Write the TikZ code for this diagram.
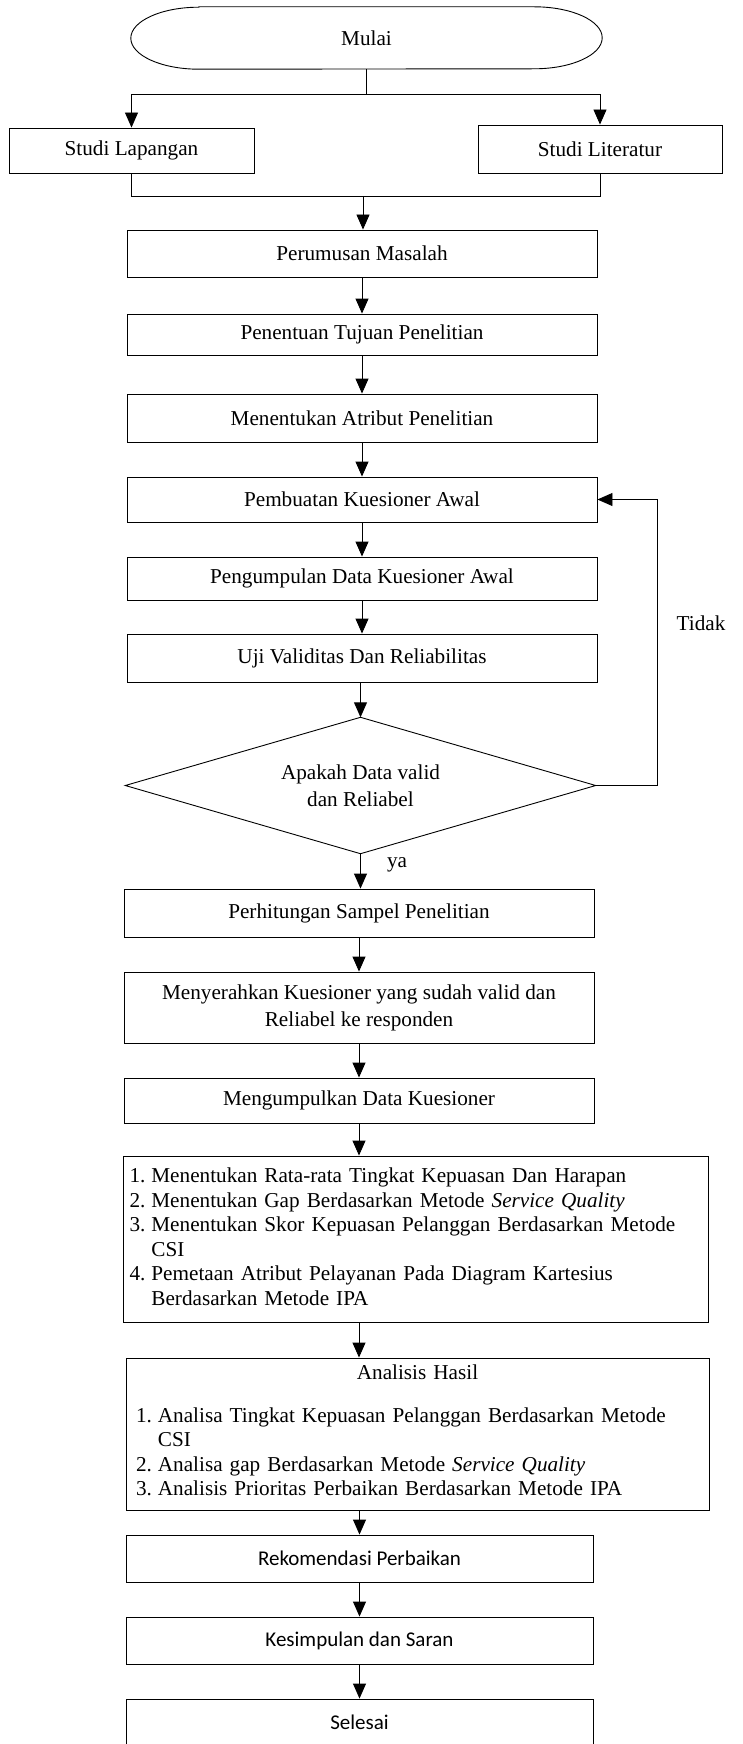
\documentclass[tikz,border=0pt]{standalone}
\usepackage{fontspec}
\setmainfont{Liberation Serif}
\newfontfamily\calibrifont{Carlito}
\usetikzlibrary{arrows.meta}
\begin{document}
\begin{tikzpicture}[x=1pt,y=-1pt,
  line/.style={draw=black,line width=0.9pt},
  box/.style={draw=black,line width=0.9pt,rectangle,inner sep=0pt,align=center,
    font=\fontsize{21.2}{24.5}\selectfont},
  cbox/.style={box,font=\calibrifont\fontsize{21}{26}\selectfont},
  flow/.style={draw=black,line width=0.9pt,-{Triangle[width=13pt,length=15pt]}},
  lbl/.style={inner sep=0pt,font=\fontsize{21.2}{24.5}\selectfont}]
\useasboundingbox (0,0) rectangle (742,1744);
\clip (0,0) rectangle (742,1744);

% start
\node[inner sep=0pt,minimum width=471pt,minimum height=62pt,font=\fontsize{21.2}{24.5}\selectfont] (mulai) at (366.5,38) {Mulai};
\draw[line] ([xshift=68pt]mulai.north west) -- ([xshift=-68pt]mulai.north east)
  arc[start angle=90,end angle=-90,x radius=68pt,y radius=31pt]
  -- ([xshift=68pt]mulai.south west)
  arc[start angle=270,end angle=90,x radius=68pt,y radius=31pt] -- cycle;

\node[box,minimum width=245pt,minimum height=45pt] (lap) at (131.5,150.5) {Studi Lapangan};
\node[box,minimum width=244pt,minimum height=48pt] (lit) at (600,149) {Studi Literatur};

\node[box,minimum width=470pt,minimum height=47pt] (rumus) at (362,253.5) {Perumusan Masalah};
\node[box,minimum width=470pt,minimum height=41pt] (tuju) at (362,334.5) {Penentuan Tujuan Penelitian};
\node[box,minimum width=470pt,minimum height=48pt] (atri) at (362,418) {Menentukan Atribut Penelitian};
\node[box,minimum width=470pt,minimum height=45pt] (pemb) at (362,499.5) {Pembuatan Kuesioner Awal};
\node[box,minimum width=470pt,minimum height=43pt] (kump) at (362,578.5) {Pengumpulan Data Kuesioner Awal};
\node[box,minimum width=470pt,minimum height=48pt] (uji) at (362,658) {Uji Validitas Dan Reliabilitas};

% decision
\node[inner sep=0pt,minimum width=470pt,minimum height=136pt,align=center,
  font=\fontsize{21.2}{27}\selectfont] (dia) at (360.5,785.5) {Apakah Data valid\\dan Reliabel};
\draw[line] (dia.north) -- (dia.east) -- (dia.south) -- (dia.west) -- cycle;

\node[box,minimum width=470pt,minimum height=48pt] (hit) at (359,913) {Perhitungan Sampel Penelitian};
\node[box,minimum width=470pt,minimum height=71pt,font=\fontsize{21.2}{27}\selectfont] (serah) at (359,1007.5) {Menyerahkan Kuesioner yang sudah valid dan\\Reliabel ke responden};
\node[box,minimum width=470pt,minimum height=45pt] (kumpul) at (359,1100.5) {Mengumpulkan Data Kuesioner};

\node[box,minimum width=585pt,minimum height=166pt,text width=573pt,inner xsep=6pt,align=left] (tentu) at (416,1239) {%
\begin{tabular}{@{}l@{\hspace{6pt}}l@{}}
1. & Menentukan Rata-rata Tingkat Kepuasan Dan Harapan\\
2. & Menentukan Gap Berdasarkan Metode \textit{Service Quality}\\
3. & Menentukan Skor Kepuasan Pelanggan Berdasarkan Metode\\
   & CSI\\
4. & Pemetaan Atribut Pelayanan Pada Diagram Kartesius\\
   & Berdasarkan Metode IPA
\end{tabular}};

\node[box,minimum width=583pt,minimum height=152pt,text width=563pt,inner xsep=10pt,align=left] (anal) at (417.5,1434) {%
{\centering Analisis Hasil\par}\vspace{24.5pt}%
\begin{tabular}{@{}l@{\hspace{6pt}}l@{}}
1. & Analisa Tingkat Kepuasan Pelanggan Berdasarkan Metode\\
   & CSI\\
2. & Analisa gap Berdasarkan Metode \textit{Service Quality}\\
3. & Analisis Prioritas Perbaikan Berdasarkan Metode IPA
\end{tabular}};

\node[cbox,minimum width=467pt,minimum height=47pt] (reko) at (359.5,1558.5) {Rekomendasi Perbaikan};
\node[cbox,minimum width=467pt,minimum height=47pt] (simp) at (359.5,1640.5) {Kesimpulan dan Saran};
\node[cbox,minimum width=467pt,minimum height=47pt] (sele) at (359.5,1722.5) {Selesai};

% labels
\node[lbl] (tidak) at (701,623) {Tidak};
\node[lbl] (ya) at (397,865) {ya};

% connectors
\coordinate (split) at (366.5,94);
\coordinate (merge) at (363,196);
\draw[line] (mulai.south) -- (split);
\draw[flow] (split) -| (lap.north);
\draw[flow] (split) -| (lit.north);
\draw[line] (lap.south) |- (merge);
\draw[line] (lit.south) |- (merge);
\draw[flow] (merge) -- (merge |- rumus.north);
\draw[flow] (rumus) -- (tuju);
\draw[flow] (tuju) -- (atri);
\draw[flow] (atri) -- (pemb);
\draw[flow] (pemb) -- (kump);
\draw[flow] (kump) -- (uji);
\draw[flow] (uji.south -| dia.north) -- (dia.north);
\coordinate (loopx) at (657,0);
\draw[flow] (dia.east) -- (dia.east -| loopx) -- (pemb.east -| loopx) -- (pemb.east);
\draw[flow] (dia.south) -- (dia.south |- hit.north);
\draw[flow] (hit) -- (serah);
\draw[flow] (serah) -- (kumpul);
\draw[flow] (kumpul.south) -- (kumpul.south |- tentu.north);
\draw[flow] (tentu.south -| kumpul) -- (kumpul |- anal.north);
\draw[flow] (anal.south -| reko) -- (reko.north);
\draw[flow] (reko) -- (simp);
\draw[flow] (simp) -- (sele);
\end{tikzpicture}
\end{document}
